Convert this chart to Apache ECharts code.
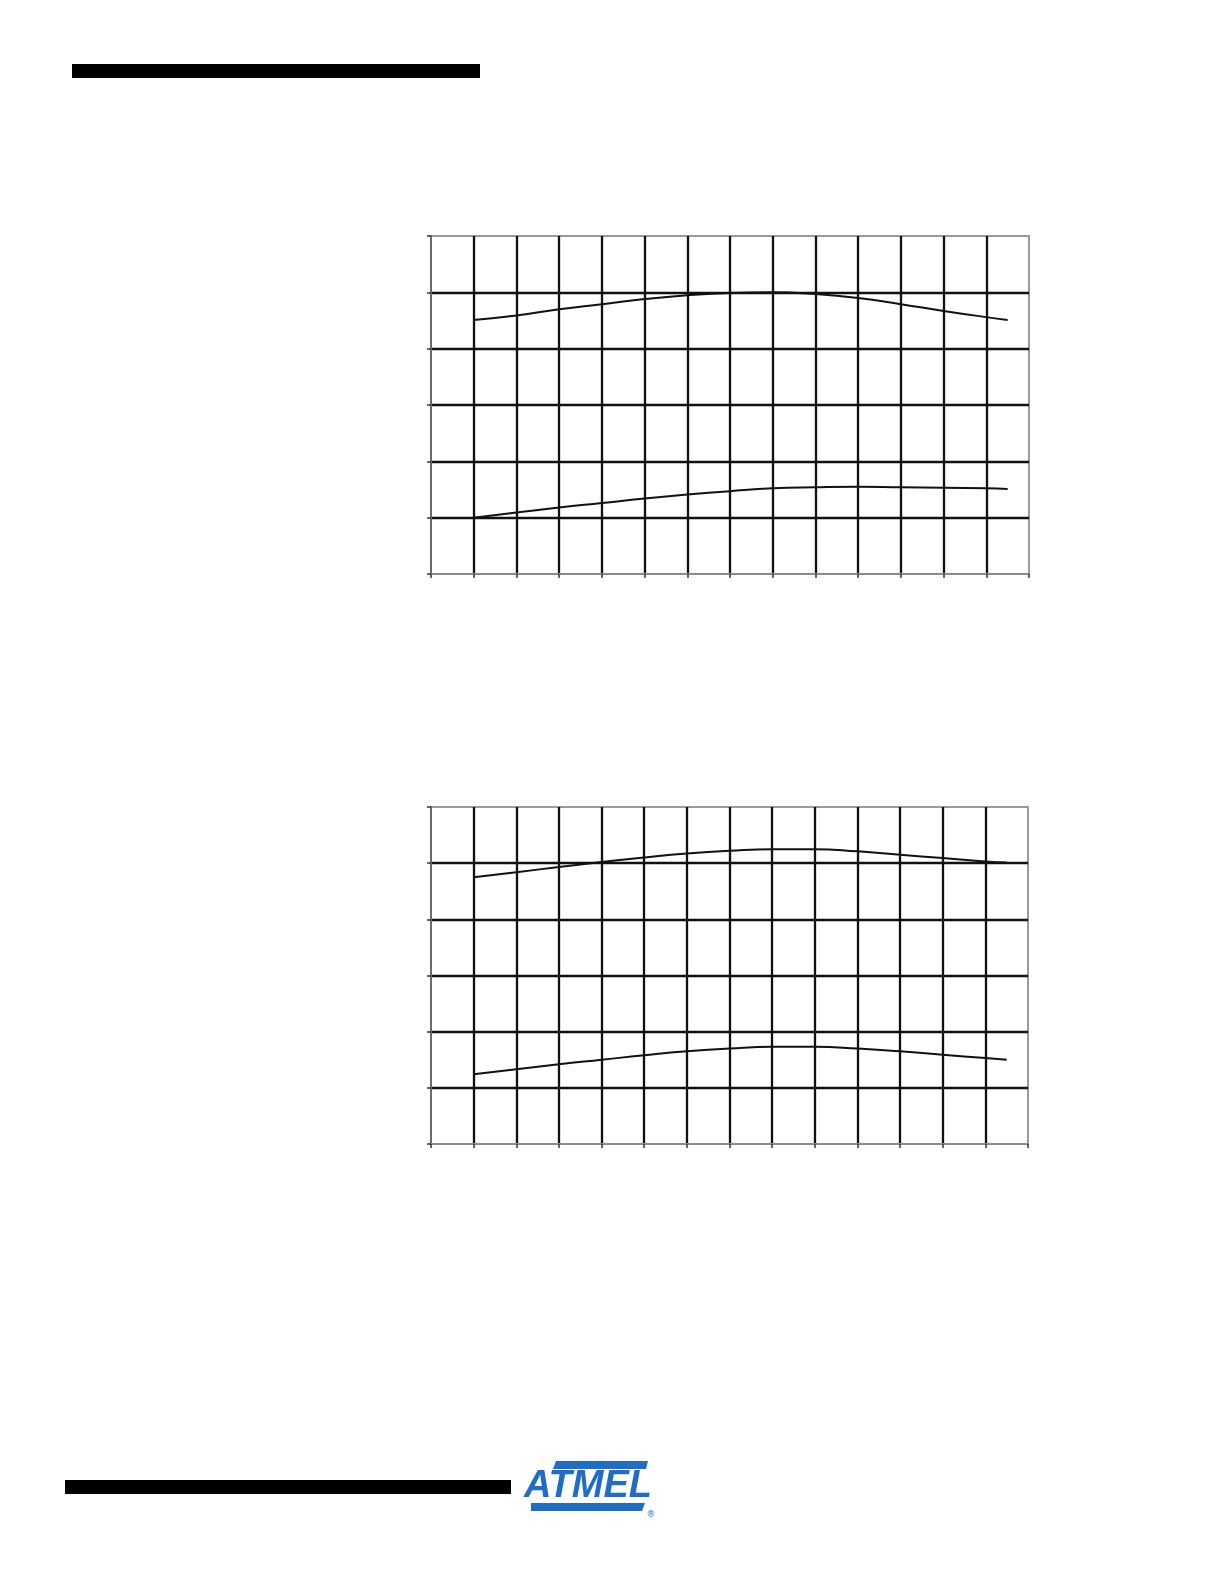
<!DOCTYPE html>
<html>
<head>
<meta charset="utf-8">
<script src="https://cdn.jsdelivr.net/npm/echarts@6/dist/echarts.min.js"></script>
<style>
html,body{margin:0;padding:0;background:#fff;}
#page{width:1224px;height:1584px;}
</style>
</head>
<body>
<div id="page"></div>
<script>
// ---- data ----
const xPoints = [1, 2, 3, 4, 5, 6, 7, 8, 9, 10, 11, 12, 13, 13.5];
const chart1Upper = [4.51, 4.59, 4.70, 4.79, 4.88, 4.95, 4.99, 5.00, 4.97, 4.90, 4.79, 4.67, 4.56, 4.51];
const chart1Lower = [1.00, 1.09, 1.18, 1.26, 1.34, 1.41, 1.47, 1.52, 1.54, 1.55, 1.54, 1.53, 1.52, 1.51];
const chart2Upper = [4.75, 4.84, 4.93, 5.02, 5.10, 5.17, 5.22, 5.25, 5.25, 5.21, 5.15, 5.09, 5.03, 5.01];
const chart2Lower = [1.24, 1.33, 1.42, 1.50, 1.58, 1.65, 1.70, 1.73, 1.73, 1.70, 1.65, 1.59, 1.53, 1.50];
const xRange = {min: 0, max: 14, interval: 1};
const yRange = {min: 0, max: 6, interval: 1};

const pairs = (ys) => xPoints.map((x, i) => [x, ys[i]]);

const chart = echarts.init(document.getElementById('page'), null, {renderer: 'canvas'});

const gridStyle = {show: true, borderColor: '#9a9a9a', borderWidth: 2, backgroundColor: 'transparent'};
function xAx(gi) {
  return {
    type: 'value', gridIndex: gi, min: xRange.min, max: xRange.max, interval: xRange.interval,
    axisLine: {show: true, onZero: false, lineStyle: {color: '#8a8a8a', width: 2}},
    axisTick: {show: true, length: 4, lineStyle: {color: '#333', width: 1.5}},
    axisLabel: {show: false},
    splitLine: {show: true, showMinLine: false, showMaxLine: false, lineStyle: {color: '#111', width: 2.3}}
  };
}
function yAx(gi) {
  return {
    type: 'value', gridIndex: gi, min: yRange.min, max: yRange.max, interval: yRange.interval,
    axisLine: {show: true, onZero: false, lineStyle: {color: '#6a6a6a', width: 2}},
    axisTick: {show: true, length: 4, lineStyle: {color: '#333', width: 1.5}},
    axisLabel: {show: false},
    splitLine: {show: true, showMinLine: false, showMaxLine: false, lineStyle: {color: '#111', width: 2.3}}
  };
}
function lineSeries(gi, ys) {
  return {
    type: 'line', xAxisIndex: gi, yAxisIndex: gi, data: pairs(ys), smooth: 0.5,
    showSymbol: false, symbol: 'none', z: 5,
    lineStyle: {color: '#111', width: 2}
  };
}

const blue = '#1f6ec4';
chart.setOption({
  animation: false,
  backgroundColor: '#fff',
  grid: [
    Object.assign({left: 431, top: 236, width: 598, height: 338}, gridStyle),
    Object.assign({left: 431, top: 807, width: 597, height: 337}, gridStyle)
  ],
  xAxis: [xAx(0), xAx(1)],
  yAxis: [yAx(0), yAx(1)],
  series: [
    lineSeries(0, chart1Upper),
    lineSeries(0, chart1Lower),
    lineSeries(1, chart2Upper),
    lineSeries(1, chart2Lower)
  ],
  graphic: [
    {type: 'rect', shape: {x: 72, y: 64, width: 408, height: 14}, style: {fill: '#000'}},
    {type: 'rect', shape: {x: 65, y: 1480, width: 446, height: 14}, style: {fill: '#000'}},
    // logo top bar
    {type: 'polygon', shape: {points: [[556, 1461], [648, 1461], [646, 1469], [553, 1469]]}, style: {fill: blue}},
    {type: 'text', style: {x: 588, y: 1468, text: 'ATMEL', fill: blue, font: 'italic 900 38px "Liberation Sans", Arial, sans-serif', align: 'center', verticalAlign: 'top'}},
    // logo bottom bar
    {type: 'polygon', shape: {points: [[531, 1503], [645, 1503], [642, 1511], [531, 1511]]}, style: {fill: blue}},
    {type: 'text', style: {x: 651, y: 1515, text: '®', fill: blue, font: '9px "DejaVu Sans", sans-serif', align: 'center', verticalAlign: 'middle'}}
  ]
});
</script>
</body>
</html>
